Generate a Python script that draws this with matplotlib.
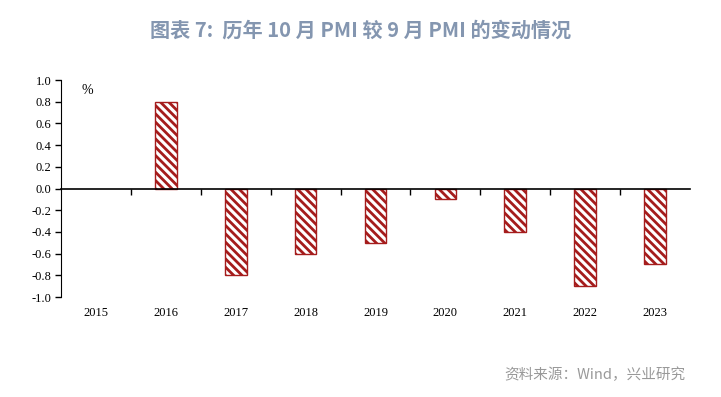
import numpy as np
import matplotlib
matplotlib.use("Agg")
import matplotlib.pyplot as plt
import matplotlib.transforms as mtransforms

# 数据
years = ["2015", "2016", "2017", "2018", "2019", "2020", "2021", "2022", "2023"]
change = [0.0, 0.8, -0.8, -0.6, -0.5, -0.1, -0.4, -0.9, -0.7]

plt.rcParams["hatch.linewidth"] = 2.0
red = "#A51C1C"

fig = plt.figure(figsize=(7.21, 3.97), dpi=100)
ax = fig.add_axes([61 / 721, 1 - 297 / 397, (690 - 61) / 721, (297 - 80) / 397])

x = np.arange(len(years))
lw = [0 if v == 0 else 1 for v in change]  # 零值柱不画边
ax.bar(x, change, width=0.31, color="white", edgecolor=red, hatch="\\\\\\\\", linewidth=lw, zorder=1)

ax.set_xlim(-0.5, len(years) - 0.5)
ax.set_ylim(-1.0, 1.0)

# y轴
yt = np.arange(-1.0, 1.01, 0.2)
ax.set_yticks(yt)
ax.set_yticklabels(["%.1f" % v if abs(v) > 1e-9 else "0.0" for v in yt],
                   family="Liberation Serif", fontsize=9)
ax.tick_params(axis="y", direction="out", length=4, width=1, pad=3)

# x轴在 0 处
ax.spines["bottom"].set_position(("data", 0))
ax.spines["bottom"].set_zorder(3)
ax.spines["bottom"].set_linewidth(1.2)
ax.spines["top"].set_visible(False)
ax.spines["right"].set_visible(False)
ax.set_xticks(np.arange(0.5, len(years) - 0.5, 1))
ax.set_xticklabels([])
ax.tick_params(axis="x", direction="out", length=4, width=1)
trans = mtransforms.blended_transform_factory(ax.transData, ax.transAxes)
for i, y in enumerate(years):
    ax.text(i, -0.075, y, transform=trans, ha="center", va="center",
            family="Liberation Serif", fontsize=9)

ax.text(0.042, 0.95, "%", transform=ax.transAxes, ha="center", va="center",
        family="Liberation Serif", fontsize=10)

fig.text(0.5, 1 - 30 / 397, "图表 7:  历年 10 月 PMI 较 9 月 PMI 的变动情况",
         ha="center", va="center", family=["Noto Sans CJK SC", "DejaVu Sans"],
         fontsize=14.5, fontweight="bold", color="#8496B0")
fig.text(685 / 721, 1 - 375 / 397, "资料来源：Wind，兴业研究",
         ha="right", va="center", family=["Noto Sans CJK SC", "DejaVu Sans"],
         fontsize=10.5, color="#999999")

fig.savefig("out.png", dpi=100)
